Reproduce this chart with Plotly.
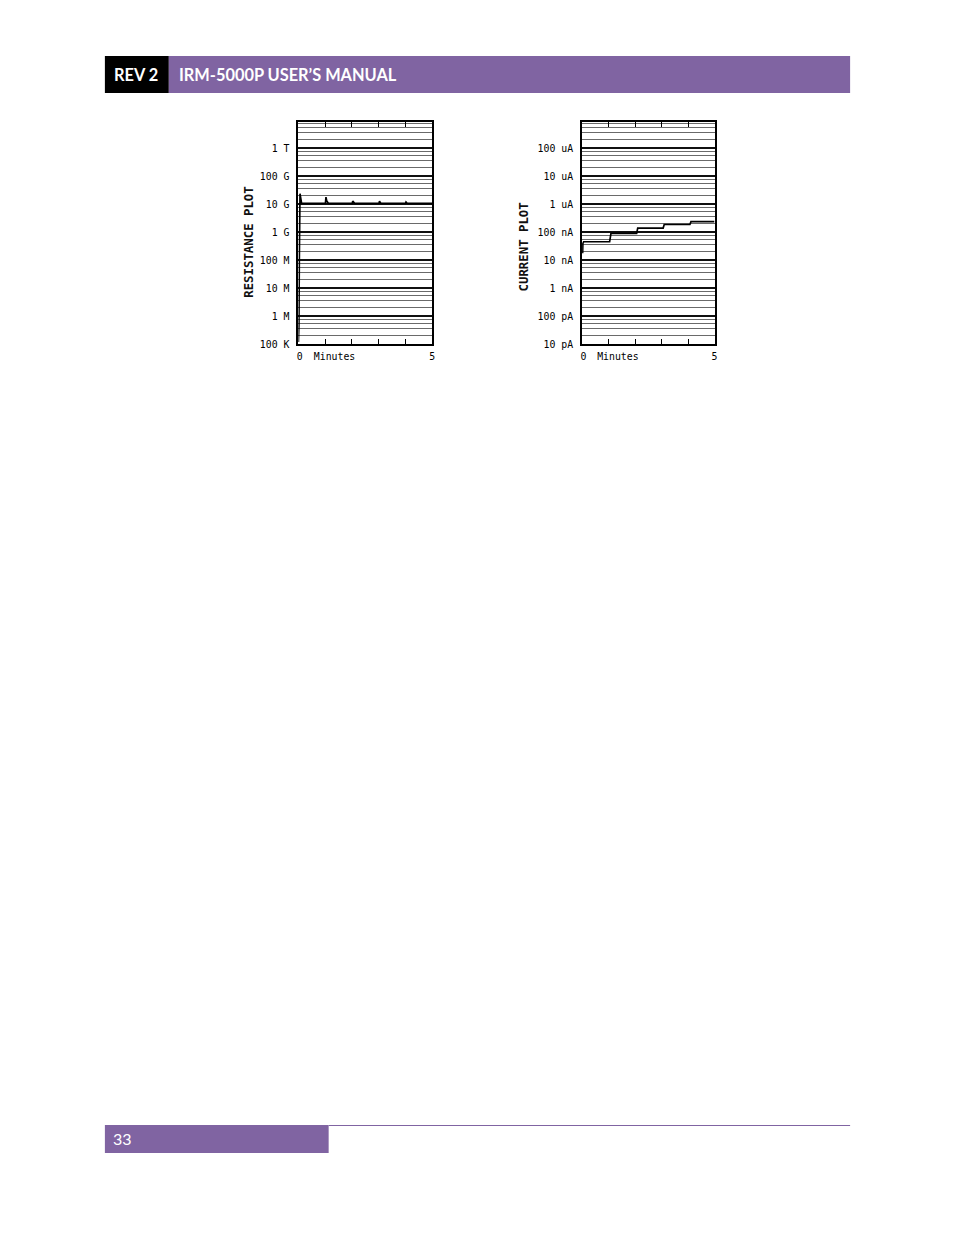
import plotly.graph_objects as go

# ---------------- data ----------------
res_minutes = [0.0, 0.02, 0.035, 0.06, 0.12, 1.01, 1.03, 1.06, 1.12, 2.01, 2.03, 2.06, 2.10,
               3.01, 3.03, 3.06, 3.10, 4.00, 4.02, 4.05, 4.09, 5.0]
res_ohms = [1.2e5, 5.0e5, 1.0e8, 2.4e10, 1.08e10, 1.08e10, 1.8e10, 1.3e10, 1.08e10, 1.08e10, 1.3e10,
            1.15e10, 1.08e10, 1.08e10, 1.3e10, 1.15e10, 1.08e10, 1.08e10, 1.2e10, 1.12e10, 1.08e10, 1.08e10]

cur_minutes = [0.02, 0.03, 0.06, 1.04, 1.09, 2.06, 2.10, 3.06, 3.10, 4.07, 4.11, 5.0]
cur_amps = [1.8e-8, 4.0e-8, 4.6e-8, 4.6e-8, 9.2e-8, 9.2e-8, 1.42e-7, 1.42e-7, 1.9e-7, 1.9e-7, 2.4e-7, 2.4e-7]

res_tick_vals = [1e5, 1e6, 1e7, 1e8, 1e9, 1e10, 1e11, 1e12]
res_tick_text = ["100 K", "1 M", "10 M", "100 M", "1 G", "10 G", "100 G", "1 T"]
cur_tick_vals = [1e-11, 1e-10, 1e-9, 1e-8, 1e-7, 1e-6, 1e-5, 1e-4]
cur_tick_text = ["10 pA", "100 pA", "1 nA", "10 nA", "100 nA", "1 uA", "10 uA", "100 uA"]
grid_multipliers = [2, 3.7, 5.6, 7.4]
minute_ticks = [1, 2, 3, 4]
minute_label_vals = [0.05, 1.35, 5]
minute_label_text = ["0", "Minutes", "5"]

# ---------------- page geometry ----------------
PAGE_W, PAGE_H = 954, 1235
SCALE = 1.0042
W, H = round(PAGE_W * SCALE), round(PAGE_H * SCALE)


def px(x):
    return (x - 1.0) / PAGE_W


def py(y):
    return 1 - y / PAGE_H


def fs(s):
    return s * SCALE


PURPLE = "#8064A2"
MONO = "DejaVu Sans Mono"
TOP, BOT = 121.5, 344.3
DEC = 28.0
span = (BOT - TOP) / DEC

res_range = [5, 5 + span]
cur_range = [-11, -11 + span]


def minor_vals(lo_exp, hi_exp, top):
    out = []
    for e in range(lo_exp, hi_exp + 1):
        for m in grid_multipliers:
            v = m * 10.0 ** e
            if v < 10 ** top:
                out.append(v)
    return out


def yax(domain, rng, vals, text, mvals, anchor):
    return dict(domain=domain, anchor=anchor, type="log", range=rng, tickmode="array", tickvals=vals,
                ticktext=text, ticks="outside", ticklen=5, tickcolor="rgba(0,0,0,0)",
                tickfont=dict(family=MONO, size=fs(9.8), color="#000000"),
                showgrid=True, gridcolor="#111111", gridwidth=2,
                showline=True, linecolor="#000000", linewidth=2, mirror=True, zeroline=False,
                minor=dict(tickmode="array", tickvals=mvals, showgrid=True,
                           gridcolor="#6a6a6a", gridwidth=1, ticks=""),
                fixedrange=True)


def xtick_ax(domain, anchor):
    return dict(domain=domain, anchor=anchor, range=[0, 5], tickmode="array", tickvals=minute_ticks,
                ticks="inside", ticklen=5, tickwidth=1, tickcolor="#000000", showticklabels=False,
                showline=True, linecolor="#000000", linewidth=2, mirror="ticks",
                showgrid=False, zeroline=False, fixedrange=True)


def xlabel_ax(overlay, anchor):
    return dict(overlaying=overlay, anchor=anchor, side="bottom", range=[0, 5], tickmode="array",
                tickvals=minute_label_vals, ticktext=minute_label_text, ticks="outside", ticklen=3,
                tickcolor="rgba(0,0,0,0)", showline=False, showgrid=False, zeroline=False,
                tickfont=dict(family=MONO, size=fs(9.8), color="#000000"), fixedrange=True)


fig = go.Figure()
fig.add_trace(go.Scatter(x=res_minutes, y=res_ohms, xaxis="x", yaxis="y", mode="lines",
                         line=dict(color="#000000", width=1.7), hoverinfo="skip"))
fig.add_trace(go.Scatter(x=cur_minutes, y=cur_amps, xaxis="x2", yaxis="y2", mode="lines",
                         line=dict(color="#000000", width=1.7), hoverinfo="skip"))
# carriers for the label-only overlay axes
fig.add_trace(go.Scatter(x=[None], y=[None], xaxis="x3", yaxis="y", mode="lines",
                         hoverinfo="skip", showlegend=False))
fig.add_trace(go.Scatter(x=[None], y=[None], xaxis="x4", yaxis="y2", mode="lines",
                         hoverinfo="skip", showlegend=False))

ydom = [py(BOT), py(TOP)]
fig.update_layout(
    width=W, height=H, margin=dict(l=0, r=0, t=0, b=0),
    paper_bgcolor="white", plot_bgcolor="white", showlegend=False,
    xaxis=xtick_ax([px(297.7), px(431.7)], "y"),
    yaxis=yax(ydom, res_range, res_tick_vals, res_tick_text, minor_vals(5, 12, res_range[1]), "x"),
    xaxis2=xtick_ax([px(581.7), px(714.3)], "y2"),
    yaxis2=yax(ydom, cur_range, cur_tick_vals, cur_tick_text, minor_vals(-11, -4, cur_range[1]), "x2"),
    xaxis3=xlabel_ax("x", "y"),
    xaxis4=xlabel_ax("x2", "y2"),
)

shapes = [
    dict(type="rect", xref="paper", yref="paper", x0=px(104), x1=px(168), y0=py(93), y1=py(56),
         fillcolor="#000000", line=dict(width=0), layer="below"),
    dict(type="rect", xref="paper", yref="paper", x0=px(168), x1=px(850), y0=py(93), y1=py(56),
         fillcolor=PURPLE, line=dict(width=0), layer="below"),
    dict(type="rect", xref="paper", yref="paper", x0=px(104), x1=px(328), y0=py(1153), y1=py(1125),
         fillcolor=PURPLE, line=dict(width=0), layer="below"),
    dict(type="line", xref="paper", yref="paper", x0=px(328), x1=px(850), y0=py(1125.5), y1=py(1125.5),
         line=dict(color=PURPLE, width=1)),
]
fig.update_layout(shapes=shapes)

annotations = [
    dict(text="<b>REV 2</b>", x=px(111), y=py(74.5), xref="paper", yref="paper", xanchor="left",
         yanchor="middle", showarrow=False, font=dict(family="Lato", size=fs(16.3), color="white")),
    dict(text="<b>IRM-5000P USER’S MANUAL</b>", x=px(176), y=py(74.5), xref="paper", yref="paper",
         xanchor="left", yanchor="middle", showarrow=False,
         font=dict(family="Lato", size=fs(16.3), color="white")),
    dict(text="33", x=px(110), y=py(1138), xref="paper", yref="paper", xanchor="left",
         yanchor="middle", showarrow=False, font=dict(family="Lato", size=fs(16), color="white")),
    dict(text="<b>RESISTANCE PLOT</b>", x=px(247.5), y=py(242.5), xref="paper", yref="paper",
         textangle=-90, showarrow=False, xanchor="center", yanchor="middle",
         font=dict(family=MONO, size=fs(12.3), color="#111111")),
    dict(text="<b>CURRENT PLOT</b>", x=px(524.5), y=py(246.5), xref="paper", yref="paper",
         textangle=-90, showarrow=False, xanchor="center", yanchor="middle",
         font=dict(family=MONO, size=fs(12.3), color="#111111")),
]
fig.update_layout(annotations=annotations)

fig.write_html(
    "out.html",
    config={"displayModeBar": False, "staticPlot": True},
    post_script="document.body.style.margin='0px';document.documentElement.style.overflow='hidden';",
)
